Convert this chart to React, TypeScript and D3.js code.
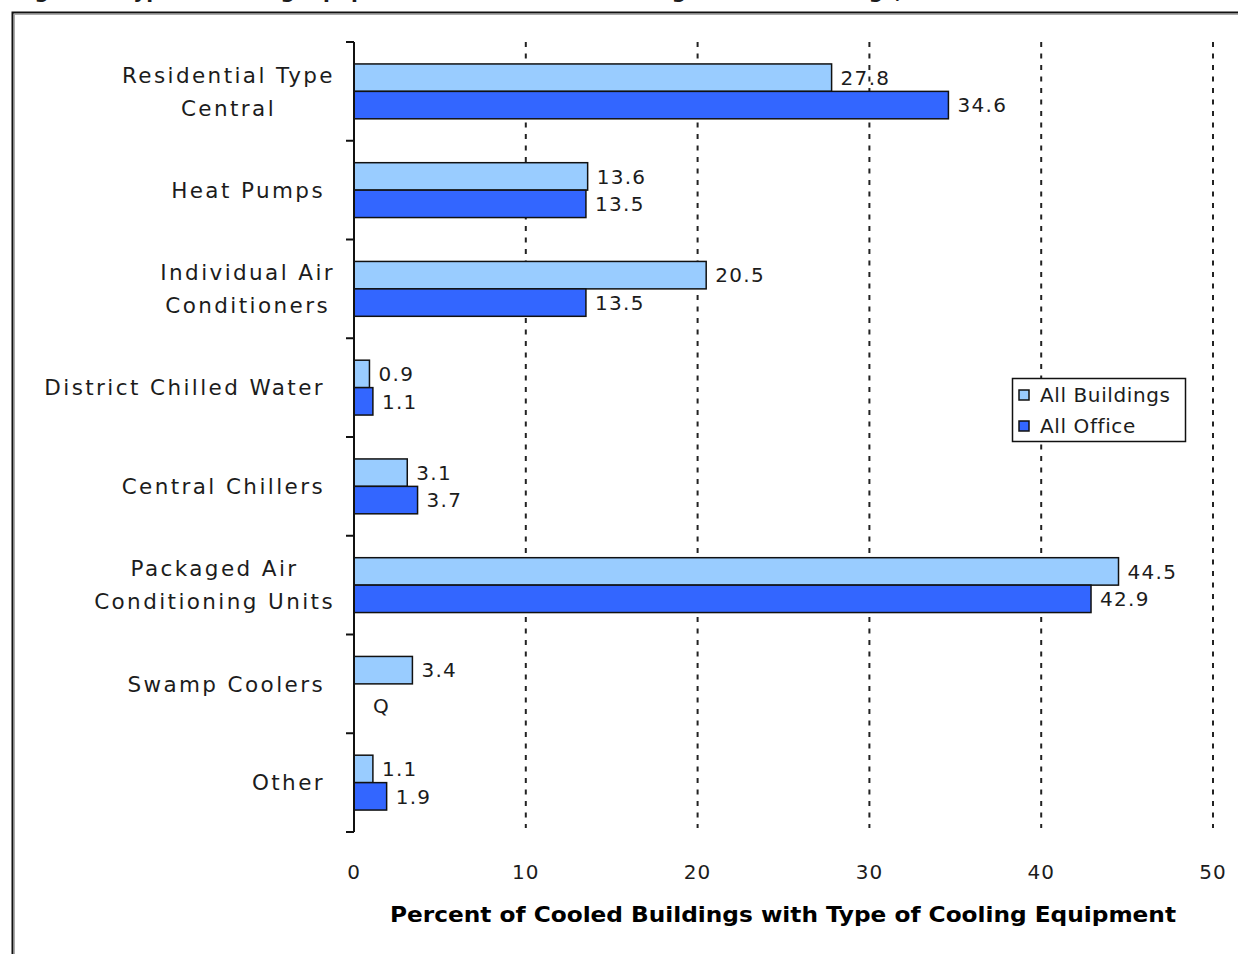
import React, { useEffect, useRef } from 'react';
import * as d3 from 'd3';

const categories = [
  ['Residential Type', 'Central'],
  ['Heat Pumps'],
  ['Individual Air', 'Conditioners'],
  ['District Chilled Water'],
  ['Central Chillers'],
  ['Packaged Air', 'Conditioning Units'],
  ['Swamp Coolers'],
  ['Other'],
];
const seriesNames = ['All Buildings', 'All Office'];
const allBuildings = [27.8, 13.6, 20.5, 0.9, 3.1, 44.5, 3.4, 1.1];
// null = "Q" (withheld, too few cases)
const allOffice: (number | null)[] = [34.6, 13.5, 13.5, 1.1, 3.7, 42.9, null, 1.9];
const xTicks = [0, 10, 20, 30, 40, 50];
const colors = ['#99CCFF', '#3366FF'];

const FONT = '"DejaVu Sans", Verdana, sans-serif';
const TEXT = '#1c1c1c';

const App: React.FC = () => {
  const svgRef = useRef<SVGSVGElement>(null);

  useEffect(() => {
    const W = 1238;
    const H = 954;
    const plot = { left: 354, right: 1213, top: 42, bottom: 832 };

    const svg = d3.select(svgRef.current);
    svg.selectAll('*').remove();
    svg.attr('width', W).attr('height', H);

    svg.append('rect').attr('width', W).attr('height', H).attr('fill', '#fff');

    // figure title, mostly above the visible area (as in the source)
    svg.append('text')
      .attr('x', 14)
      .attr('y', -2)
      .attr('font-family', FONT)
      .attr('font-size', 20)
      .attr('font-weight', 'bold')
      .attr('fill', TEXT)
      .text('Figure 3. Type of Cooling Equipment Used in Office Buildings and All Buildings, 2003');

    // frame
    svg.append('rect')
      .attr('x', 12.5).attr('y', 12.5)
      .attr('width', W + 20).attr('height', H + 20)
      .attr('fill', 'none')
      .attr('stroke', '#111')
      .attr('stroke-width', 2);
    svg.append('rect')
      .attr('x', 14.5).attr('y', 14.5)
      .attr('width', W + 20).attr('height', H + 20)
      .attr('fill', 'none')
      .attr('stroke', '#aaa')
      .attr('stroke-width', 1);

    const x = d3.scaleLinear().domain([0, 50]).range([plot.left, plot.right]);
    const y = d3.scaleBand<number>()
      .domain(d3.range(categories.length))
      .range([plot.top, plot.bottom]);
    const ySub = d3.scaleBand<number>()
      .domain([0, 1])
      .range([0, y.bandwidth()])
      .paddingOuter(0.8);

    // gridlines
    svg.append('g')
      .selectAll('line')
      .data(xTicks.filter(t => t > 0))
      .enter().append('line')
      .attr('x1', d => x(d)).attr('x2', d => x(d))
      .attr('y1', plot.top).attr('y2', plot.bottom - 4)
      .attr('stroke', '#222')
      .attr('stroke-width', 2)
      .attr('stroke-dasharray', '5,6.5');

    // bars
    const series = [allBuildings, allOffice];
    series.forEach((vals, si) => {
      const g = svg.append('g');
      vals.forEach((v, ci) => {
        const y0 = (y(ci) as number) + (ySub(si) as number);
        const bh = ySub.bandwidth();
        if (v !== null) {
          g.append('rect')
            .attr('x', x(0))
            .attr('y', y0)
            .attr('width', x(v) - x(0))
            .attr('height', bh)
            .attr('fill', colors[si])
            .attr('stroke', '#111')
            .attr('stroke-width', 1.5);
        }
        g.append('text')
          .attr('x', v !== null ? x(v) + 9 : x(0) + 19)
          .attr('y', y0 + bh / 2 + (v !== null ? 0 : 8))
          .attr('dy', '0.36em')
          .attr('font-family', FONT)
          .attr('font-size', 20)
          .attr('letter-spacing', 1.3)
          .attr('fill', TEXT)
          .text(v !== null ? d3.format('.1f')(v) : 'Q');
      });
    });

    // y axis line and category ticks
    svg.append('line')
      .attr('x1', plot.left).attr('x2', plot.left)
      .attr('y1', plot.top).attr('y2', plot.bottom)
      .attr('stroke', '#111').attr('stroke-width', 2);
    svg.append('g')
      .selectAll('line')
      .data(d3.range(categories.length + 1))
      .enter().append('line')
      .attr('x1', plot.left - 8).attr('x2', plot.left)
      .attr('y1', d => plot.top + d * y.step())
      .attr('y2', d => plot.top + d * y.step())
      .attr('stroke', '#111').attr('stroke-width', 2);

    // category labels
    categories.forEach((lines, ci) => {
      const cy = (y(ci) as number) + y.bandwidth() / 2;
      const lh = 33;
      const t = svg.append('text')
        .attr('font-family', FONT)
        .attr('font-size', 21.5)
        .attr('letter-spacing', 2.4)
        .attr('fill', TEXT);
      if (lines.length === 1) {
        t.attr('text-anchor', 'end')
          .attr('x', 325)
          .attr('y', cy)
          .attr('dy', '0.36em')
          .text(lines[0]);
      } else {
        const spans = lines.map((ln, i) =>
          t.append('tspan')
            .attr('y', cy + (i - (lines.length - 1) / 2) * lh)
            .attr('dy', '0.36em')
            .text(ln));
        const maxW = d3.max(spans, s => (s.node() as SVGTSpanElement).getComputedTextLength()) || 0;
        const cx = 335 - maxW / 2;
        t.attr('text-anchor', 'middle');
        spans.forEach(s => s.attr('x', cx));
      }
    });

    // x tick labels
    svg.append('g')
      .selectAll('text')
      .data(xTicks)
      .enter().append('text')
      .attr('x', d => x(d))
      .attr('y', 872)
      .attr('dy', '0.36em')
      .attr('text-anchor', 'middle')
      .attr('font-family', FONT)
      .attr('font-size', 20)
      .attr('letter-spacing', 1)
      .attr('fill', TEXT)
      .text(d => d);

    // x axis title
    svg.append('text')
      .attr('x', 783)
      .attr('y', 914)
      .attr('dy', '0.36em')
      .attr('text-anchor', 'middle')
      .attr('font-family', '"DejaVu Sans Condensed", "DejaVu Sans", sans-serif')
      .attr('font-weight', 'bold')
      .attr('font-size', 21)
      .attr('textLength', 786)
      .attr('lengthAdjust', 'spacingAndGlyphs')
      .attr('fill', '#000')
      .text('Percent of Cooled Buildings with Type of Cooling Equipment');

    // legend
    const lg = svg.append('g').attr('transform', 'translate(1012,378)');
    lg.append('rect')
      .attr('x', 0.5).attr('y', 0.5)
      .attr('width', 173).attr('height', 63)
      .attr('fill', '#fff')
      .attr('stroke', '#111')
      .attr('stroke-width', 1.5);
    seriesNames.forEach((name, i) => {
      const cy = 17 + i * 31;
      lg.append('rect')
        .attr('x', 7).attr('y', cy - 5)
        .attr('width', 10).attr('height', 10)
        .attr('fill', colors[i])
        .attr('stroke', '#111')
        .attr('stroke-width', 1.5);
      lg.append('text')
        .attr('x', 28)
        .attr('y', cy)
        .attr('dy', '0.36em')
        .attr('font-family', FONT)
        .attr('font-size', 20)
        .attr('letter-spacing', 0.6)
        .attr('fill', TEXT)
        .text(name);
    });
  }, []);

  return (
    <svg ref={svgRef} style={{ position: 'absolute', left: 0, top: 0, display: 'block' }}></svg>
  );
};

export default App;
